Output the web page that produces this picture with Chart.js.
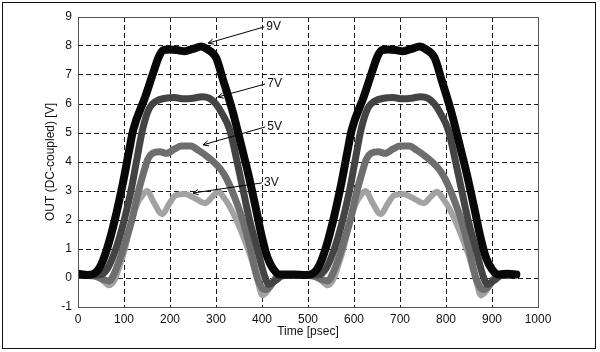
<!DOCTYPE html>
<html lang="en">
<head>
  <meta charset="UTF-8" />
  <title>OUT (DC-coupled) vs Time</title>
  <script src="https://cdn.jsdelivr.net/npm/chart.js"></script>
  <style>
    html, body { margin: 0; padding: 0; background: #fff; }
    #wrap { width: 600px; height: 352px; }
  </style>
</head>
<body>
  <div id="wrap"><canvas id="outChart" width="600" height="352"></canvas></div>

  <script>
    // tick labels
    const xTicks = [0, 100, 200, 300, 400, 500, 600, 700, 800, 900, 1000];
    const yTicks = [-1, 0, 1, 2, 3, 4, 5, 6, 7, 8, 9];

    const seriesNames = ['9V', '7V', '5V', '3V'];

    // [time psec, volts]
    const trace9V = [
      [0,0.15],[20,0.1],[35,0.15],[50,0.45],[63,1.0],[80,2.0],[98,3.3],[110,4.3],[120,5.1],[146,6.24],
      [163,7.05],[175,7.6],[185,7.86],[200,7.88],[215,7.86],[232,7.82],[250,7.9],[268,7.98],[280,7.9],[300,7.6],[315,6.85],
      [337,5.7],[356,4.5],[370,3.6],[388,2.3],[400,1.4],[412,0.7],[425,0.3],[440,0.12],[470,0.12],[495,0.1],
      [510,0.15],[525,0.45],[538,1.0],[555,2.0],[573,3.3],[585,4.3],[595,5.1],[621,6.24],[638,7.05],[650,7.6],[660,7.86],
      [675,7.88],[690,7.86],[707,7.82],[725,7.9],[743,7.98],[755,7.9],[775,7.6],[790,6.85],[812,5.7],[831,4.5],
      [845,3.6],[863,2.3],[875,1.4],[887,0.7],[900,0.3],[915,0.12],[935,0.15],[953,0.12]
    ];
    const trace7V = [
      [0,0.1],[30,0.1],[50,0.12],[65,0.35],[80,0.9],[92,1.5],[102,2.1],[115,3.0],[128,4.1],[140,5.1],
      [155,5.85],[170,6.1],[190,6.2],[210,6.22],[230,6.18],[250,6.2],[270,6.25],[285,6.2],[300,6.0],[312,5.7],
      [330,5.1],[350,3.7],[373,2.0],[390,1.0],[405,0.1],[415,-0.22],[428,-0.1],[445,0.08],[475,0.1],
      [505,0.1],[525,0.12],[540,0.35],[555,0.9],[567,1.5],[577,2.1],[590,3.0],[603,4.1],[615,5.1],[630,5.85],
      [645,6.1],[665,6.2],[685,6.22],[705,6.18],[725,6.2],[745,6.25],[760,6.2],[775,6.0],[787,5.7],[805,5.1],
      [825,3.7],[848,2.0],[865,1.0],[880,0.1],[890,-0.22],[903,-0.1],[920,0.08],[940,0.1]
    ];
    const trace5V = [
      [0,0.1],[40,0.05],[55,-0.05],[68,-0.1],[80,0.2],[92,0.7],[102,1.2],[117,2.0],[130,2.9],[142,3.6],
      [152,4.1],[162,4.3],[178,4.35],[193,4.3],[210,4.45],[225,4.55],[245,4.55],[262,4.4],[280,4.2],[295,4.0],
      [310,3.75],[322,3.45],[340,2.8],[358,2.0],[375,1.0],[390,0.0],[405,-0.4],[417,-0.3],[430,0.0],[445,0.1],[475,0.1],
      [515,0.05],[530,-0.05],[543,-0.1],[555,0.2],[567,0.7],[577,1.2],[592,2.0],[605,2.9],[617,3.6],
      [627,4.1],[637,4.3],[653,4.35],[668,4.3],[685,4.45],[700,4.55],[720,4.55],[737,4.4],[755,4.2],[770,4.0],
      [785,3.75],[797,3.45],[815,2.8],[833,2.0],[850,1.0],[865,0.0],[880,-0.4],[892,-0.3],[905,0.0],[920,0.1],[940,0.1]
    ];
    const trace3V = [
      [0,0.1],[40,0.05],[55,-0.1],[68,-0.25],[80,-0.05],[92,0.5],[102,1.0],[117,2.0],[130,2.6],[140,2.85],
      [150,3.0],[165,2.6],[183,2.2],[198,2.55],[212,2.85],[232,2.9],[254,2.75],[276,2.58],[292,2.8],[305,2.97],
      [318,2.75],[332,2.4],[347,1.9],[360,1.4],[375,0.75],[389,0.0],[401,-0.6],[412,-0.45],[425,-0.1],[440,0.05],[470,0.1],
      [515,0.05],[530,-0.1],[543,-0.25],[555,-0.05],[567,0.5],[577,1.0],[592,2.0],[605,2.6],[615,2.85],
      [625,3.0],[640,2.6],[658,2.2],[673,2.55],[687,2.85],[707,2.9],[729,2.75],[751,2.58],[767,2.8],[780,2.97],
      [793,2.75],[807,2.4],[822,1.9],[835,1.4],[850,0.75],[864,0.0],[876,-0.6],[887,-0.45],[900,-0.1],[915,0.05],[940,0.1]
    ];

    // arrow callouts in data units
    const arrowTails = [[405, 8.66], [407, 6.69], [407, 5.21], [400, 3.28]];
    const arrowHeads = [[283, 8.10], [304, 6.24], [272, 4.59], [250, 2.93]];

    const traces = [trace9V, trace7V, trace5V, trace3V];
    const colors = ['#080808', '#444444', '#6e6e6e', '#a2a2a2'];
    const widths = [8, 7, 7, 6];

    const FONT = "'Liberation Sans', Arial, sans-serif";

    const framePlugin = {
      id: 'frame',
      afterDraw(chart) {
        const { ctx, chartArea: a, scales: { x, y } } = chart;
        ctx.save();
        // plot box
        ctx.strokeStyle = '#555';
        ctx.lineWidth = 1;
        ctx.setLineDash([]);
        ctx.strokeRect(Math.round(a.left) + 0.5, Math.round(a.top) + 0.5,
                       Math.round(a.right - a.left), Math.round(a.bottom - a.top));
        // outer border
        ctx.strokeStyle = '#111';
        ctx.strokeRect(2.5, 2.5, 593, 346);

        // callouts
        ctx.strokeStyle = '#000';
        ctx.fillStyle = '#111';
        ctx.font = '12px ' + FONT;
        ctx.textBaseline = 'middle';
        ctx.textAlign = 'left';
        seriesNames.forEach((name, i) => {
          const tx = x.getPixelForValue(arrowTails[i][0]);
          const ty = y.getPixelForValue(arrowTails[i][1]);
          const hx = x.getPixelForValue(arrowHeads[i][0]);
          const hy = y.getPixelForValue(arrowHeads[i][1]);
          ctx.beginPath();
          ctx.moveTo(tx, ty);
          ctx.lineTo(hx, hy);
          const ang = Math.atan2(ty - hy, tx - hx);
          ctx.moveTo(hx + 6 * Math.cos(ang - 0.45), hy + 6 * Math.sin(ang - 0.45));
          ctx.lineTo(hx, hy);
          ctx.lineTo(hx + 6 * Math.cos(ang + 0.45), hy + 6 * Math.sin(ang + 0.45));
          ctx.stroke();
          ctx.fillText(name, tx + 2, ty);
        });
        ctx.restore();
      }
    };

    new Chart(document.getElementById('outChart').getContext('2d'), {
      type: 'line',
      data: {
        datasets: traces.map((t, i) => ({
          label: seriesNames[i],
          data: t.map(p => ({ x: p[0], y: p[1] })),
          borderColor: colors[i],
          borderWidth: widths[i],
          pointRadius: 0,
          fill: false,
          cubicInterpolationMode: 'monotone',
          borderCapStyle: 'round',
          borderJoinStyle: 'round'
        }))
      },
      options: {
        responsive: false,
        animation: false,
        layout: { padding: { left: 0, top: 17, right: 62, bottom: 0 } },
        plugins: { legend: { display: false }, tooltip: { enabled: false } },
        scales: {
          x: {
            type: 'linear',
            min: 0, max: 1000,
            afterFit(s) { s.height = 45; },
            afterBuildTicks(s) { s.ticks = xTicks.map(v => ({ value: v })); },
            grid: {
              color: ctx => (ctx.tick && (ctx.tick.value === 0 || ctx.tick.value === 1000)) ? 'rgba(0,0,0,0)' : '#1a1a1a',
              lineWidth: 1,
              drawTicks: false
            },
            border: { display: false, dash: [5, 3] },
            ticks: { padding: 5, color: '#111', font: { family: FONT, size: 12 }, maxRotation: 0,
                     callback: v => String(v) },
            title: { display: true, text: 'Time [psec]', color: '#111', font: { family: FONT, size: 12 }, padding: { top: 0, bottom: 13 } }
          },
          y: {
            min: -1, max: 9,
            afterFit(s) { s.width = 78; },
            afterBuildTicks(s) { s.ticks = yTicks.map(v => ({ value: v })); },
            grid: {
              color: ctx => (ctx.tick && (ctx.tick.value === -1 || ctx.tick.value === 9)) ? 'rgba(0,0,0,0)' : '#1a1a1a',
              lineWidth: 1,
              drawTicks: false
            },
            border: { display: false, dash: [5, 3] },
            ticks: { padding: 6, color: '#111', font: { family: FONT, size: 12 }, callback: v => String(v) },
            title: { display: true, text: 'OUT (DC-coupled) [V]', color: '#111', font: { family: FONT, size: 12 }, padding: { top: 43, bottom: 0 } }
          }
        }
      },
      plugins: [framePlugin]
    });
  </script>
</body>
</html>
